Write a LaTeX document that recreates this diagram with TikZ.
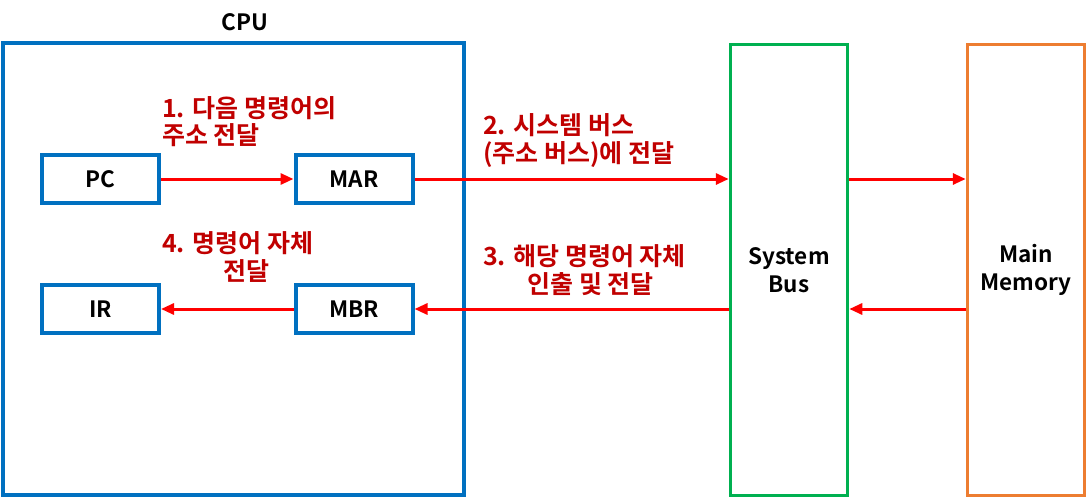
\documentclass[tikz,border=0pt]{standalone}
\usepackage{fontspec}
\setmainfont{Noto Sans CJK KR}[BoldFont={* Bold}]
\usetikzlibrary{arrows.meta}
\definecolor{cpublue}{HTML}{0070C0}
\definecolor{busgreen}{HTML}{00B050}
\definecolor{memorange}{HTML}{ED7D31}
\definecolor{labred}{HTML}{C00000}
\definecolor{arrred}{HTML}{FF0000}
\begin{document}
\begin{tikzpicture}[x=1pt,y=-1pt,
  reg/.style={draw=cpublue,line width=4pt,minimum width=117pt,minimum height=48pt,inner sep=0pt,font=\fontsize{22.5}{27}\selectfont\bfseries},
  tall/.style={line width=3.5pt,minimum width=117pt,minimum height=451pt,inner sep=0pt,align=center,font=\fontsize{22.5}{28}\selectfont\bfseries},
  flow/.style={draw=arrred,line width=3pt,-{Triangle[length=13pt,width=11pt]}},
  lab/.style={text=labred,font=\fontsize{25}{27.5}\selectfont\bfseries,inner sep=0pt}]
\useasboundingbox (0,0) rectangle (1089,500);
\node[draw=cpublue,line width=4pt,minimum width=461pt,minimum height=452pt,inner sep=0pt] (cpu) at (233.5,269) {};
\node[font=\fontsize{22.5}{27}\selectfont\bfseries] (cpulab) at (245,22) {CPU};
\node[reg] (pc) at (100.5,179) {PC};
\node[reg] (mar) at (354,179) {MAR};
\node[reg] (ir) at (100.5,309) {IR};
\node[reg] (mbr) at (354,309) {MBR};
\node[tall,draw=busgreen] (bus) at (789,270) {System\\Bus};
\node[tall,draw=memorange] (mem) at (1026,270) {Main\\Memory};
\coordinate (busL1) at (bus.west |- mar);
\coordinate (busR1) at (bus.east |- mar);
\coordinate (busL2) at (bus.west |- mbr);
\coordinate (busR2) at (bus.east |- mbr);
\coordinate (memL1) at (mem.west |- mar);
\coordinate (memL2) at (mem.west |- mbr);
\draw[flow] (pc.east) -- (mar.west);
\draw[flow] (mar.east) -- (busL1);
\draw[flow] (busR1) -- (memL1);
\draw[flow] (memL2) -- (busR2);
\draw[flow] (busL2) -- (mbr.east);
\draw[flow] (mbr.west) -- (ir.east);
\node[lab,anchor=base west,align=left] (l1) at (162,145) {1. 다음 명령어의\\주소 전달};
\node[lab,anchor=base west,align=left] (l2) at (483,162) {2. 시스템 버스\\(주소 버스)에 전달};
\node[lab,anchor=base west,align=center] (l3) at (483,293) {3. 해당 명령어 자체\\\hspace*{12pt}인출 및 전달};
\node[lab,anchor=base west,align=center] (l4) at (162,280) {4. 명령어 자체\\\hspace*{17pt}전달};
\end{tikzpicture}
\end{document}
